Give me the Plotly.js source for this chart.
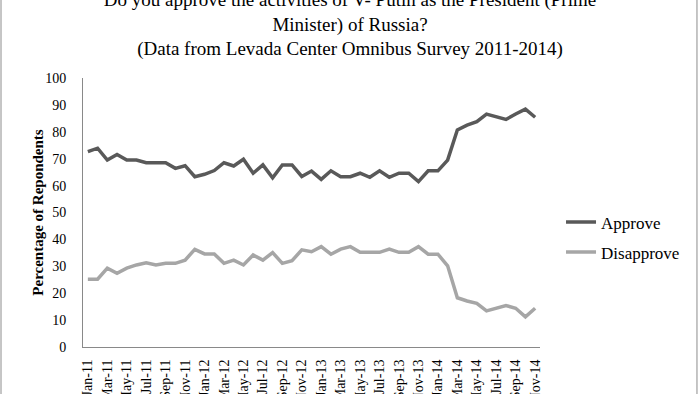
<!DOCTYPE html>
<html>
<head>
<meta charset="utf-8">
<script src="https://cdn.plot.ly/plotly-3.0.1.min.js"></script>
<style>
  html, body { margin: 0; padding: 0; background: #ffffff; }
  #chart { width: 700px; height: 394px; }
</style>
</head>
<body>
<div id="chart"></div>
<script>
const months = [
  'Jan-11','Feb-11','Mar-11','Apr-11','May-11','Jun-11','Jul-11','Aug-11','Sep-11','Oct-11','Nov-11','Dec-11',
  'Jan-12','Feb-12','Mar-12','Apr-12','May-12','Jun-12','Jul-12','Aug-12','Sep-12','Oct-12','Nov-12','Dec-12',
  'Jan-13','Feb-13','Mar-13','Apr-13','May-13','Jun-13','Jul-13','Aug-13','Sep-13','Oct-13','Nov-13','Dec-13',
  'Jan-14','Feb-14','Mar-14','Apr-14','May-14','Jun-14','Jul-14','Aug-14','Sep-14','Oct-14','Nov-14'
];
const approve = [
  72.6,73.9,69.5,71.6,69.5,69.5,68.5,68.5,68.5,66.4,67.4,63.3,
  64.2,65.6,68.5,67.3,69.8,64.6,67.7,62.9,67.7,67.7,63.4,65.4,
  62.3,65.5,63.3,63.3,64.6,63.1,65.5,63.1,64.6,64.6,61.5,65.5,
  65.5,69.5,80.7,82.5,83.8,86.6,85.6,84.6,86.6,88.4,85.4
];
const disapprove = [
  25.2,25.2,29.3,27.4,29.3,30.5,31.3,30.5,31.1,31.1,32.3,36.3,
  34.6,34.6,31.1,32.3,30.5,34.2,32.3,35.1,31.1,32.1,36.1,35.4,
  37.3,34.5,36.4,37.3,35.2,35.2,35.2,36.4,35.2,35.2,37.3,34.5,
  34.5,30.2,18.3,17.1,16.2,13.4,14.4,15.4,14.4,11.2,14.4
];
const tickLabels = months.filter((m, i) => i % 2 === 0);
const seriesNames = ['Approve', 'Disapprove'];
const titleLines = [
  'Do you approve the activities of V- Putin as the President (Prime',
  'Minister) of Russia?',
  '(Data from Levada Center Omnibus Survey 2011-2014)'
];
const yTitle = 'Percentage of Repondents';

const FONT = '"Liberation Serif", "Times New Roman", serif';

const traces = [
  {
    x: months, y: approve, name: seriesNames[0], type: 'scatter', mode: 'lines',
    line: { color: '#595959', width: 3.5 }, legendgroup: 'a'
  },
  {
    x: months, y: disapprove, name: seriesNames[1], type: 'scatter', mode: 'lines',
    line: { color: '#a6a6a6', width: 3.5 }, legendgroup: 'b'
  }
];

const layout = {
  width: 700, height: 394,
  margin: { l: 83, r: 160, t: 78, b: 47, pad: 0 },
  paper_bgcolor: '#ffffff', plot_bgcolor: '#ffffff',
  font: { family: FONT, color: '#000000', size: 14 },
  title: {
    text: titleLines.join('<br>'),
    font: { family: FONT, size: 19, color: '#000000' },
    x: 0.5, xref: 'container', xanchor: 'center',
    y: 0.985, yref: 'container', yanchor: 'middle'
  },
  showlegend: true,
  legend: {
    x: 1.046, xanchor: 'left', y: 0.53, yanchor: 'top',
    font: { family: FONT, size: 17, color: '#000000' },
    tracegroupgap: 5, bgcolor: 'rgba(0,0,0,0)', borderwidth: 0
  },
  xaxis: {
    type: 'category', range: [-0.5, 46.5],
    showline: true, linecolor: '#898989', linewidth: 1,
    showgrid: false, zeroline: false, ticks: '',
    tickmode: 'array', tickvals: tickLabels, ticktext: tickLabels,
    tickangle: -90, ticklabelstandoff: 6,
    tickfont: { family: FONT, size: 14, color: '#000000' },
    automargin: false, fixedrange: true
  },
  yaxis: {
    range: [0, 100], dtick: 10, tick0: 0,
    showline: true, linecolor: '#898989', linewidth: 1,
    showgrid: false, zeroline: false, ticks: '',
    ticklabelstandoff: 13,
    tickfont: { family: FONT, size: 14, color: '#000000' },
    title: { text: '<b>' + yTitle + '</b>', font: { family: FONT, size: 15, color: '#000000' } },
    automargin: false, fixedrange: true
  },
  shapes: [
    { type: 'line', xref: 'paper', yref: 'paper', x0: -0.1794, x1: -0.1794, y0: -0.5, y1: 1.6,
      line: { color: '#8c8c8c', width: 1 } },
    { type: 'line', xref: 'paper', yref: 'paper', x0: 1.3435, x1: 1.3435, y0: -0.5, y1: 1.6,
      line: { color: '#8c8c8c', width: 1 } }
  ]
};

Plotly.newPlot('chart', traces, layout, { displayModeBar: false, staticPlot: true });
</script>
</body>
</html>
